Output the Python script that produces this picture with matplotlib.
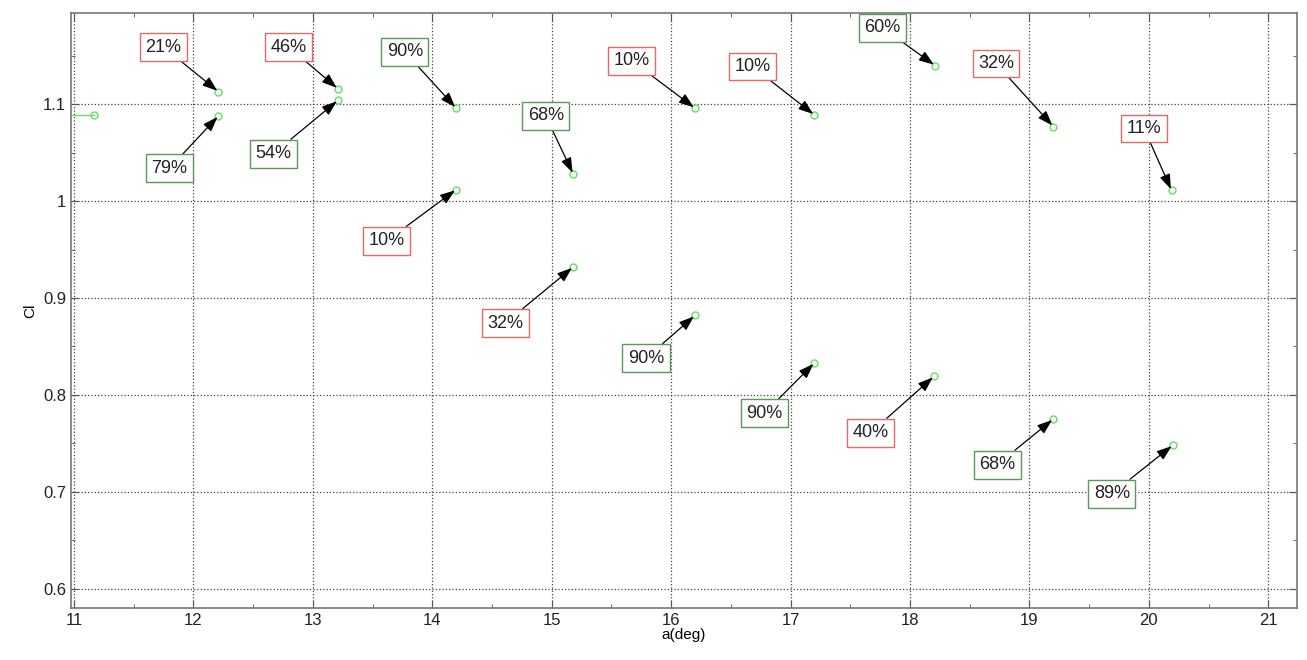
import matplotlib.pyplot as plt
from matplotlib.ticker import MultipleLocator

plt.rcParams["font.family"] = ["Liberation Sans", "DejaVu Sans"]

# measured points: angle of attack vs lift coefficient
alpha = [12.21, 12.21, 13.21, 13.21, 14.2, 14.2, 15.18, 15.18, 16.2, 16.2,
         17.2, 17.2, 18.21, 18.2, 19.2, 19.2, 20.19, 20.2]
cl = [1.113, 1.088, 1.116, 1.104, 1.096, 1.012, 1.028, 0.932, 1.096, 0.882,
      1.089, 0.833, 1.140, 0.819, 1.077, 0.775, 1.011, 0.748]
labels = ["21%", "79%", "46%", "54%", "90%", "10%", "68%", "32%", "10%", "90%",
          "10%", "90%", "60%", "40%", "32%", "68%", "11%", "89%"]
# label box centres
label_x = [11.75, 11.80, 12.80, 12.67, 13.77, 13.62, 14.95, 14.61, 15.67, 15.79,
           16.68, 16.78, 17.77, 17.67, 18.72, 18.73, 19.96, 19.69]
label_y = [1.159, 1.034, 1.159, 1.049, 1.154, 0.959, 1.088, 0.874, 1.145, 0.838,
           1.139, 0.781, 1.179, 0.761, 1.142, 0.728, 1.075, 0.698]

# first sample, drawn with its connecting line from the left edge
lead_x = [10.9, 11.17]
lead_y = [1.089, 1.089]

GREEN_EDGE = "#5f955f"
RED_EDGE = "#e06a6a"


def main() -> None:
    fig = plt.figure(figsize=(13.07, 6.6), dpi=100)
    ax = fig.add_axes([0.0543, 0.0788, 0.9380, 0.9012])

    ax.plot(lead_x, lead_y, "-o", color="#66dd66", mfc="none", ms=5, lw=1)
    ax.plot(alpha, cl, "o", color="#66dd66", mfc="none", ms=5, lw=0)

    for x, y, tx, ty, lab in zip(alpha, cl, label_x, label_y, labels):
        pct = int(lab.rstrip("%"))
        edge = GREEN_EDGE if pct >= 50 else RED_EDGE
        ax.annotate(
            lab, xy=(x, y), xytext=(tx, ty),
            ha="center", va="center", fontsize=13, color="#222222",
            bbox=dict(boxstyle="square,pad=0.3", fc="white", ec=edge, lw=1),
            arrowprops=dict(arrowstyle="-|>,head_length=0.7,head_width=0.25",
                            color="black", lw=0.9, shrinkA=0, shrinkB=1),
        )

    ax.set_xlim(10.975, 21.24)
    ax.set_ylim(0.58, 1.194)
    ax.xaxis.set_major_locator(MultipleLocator(1))
    ax.xaxis.set_minor_locator(MultipleLocator(0.5))
    ax.yaxis.set_major_locator(MultipleLocator(0.1))
    ax.yaxis.set_minor_locator(MultipleLocator(0.05))
    ax.set_yticks([0.6, 0.7, 0.8, 0.9, 1.0, 1.1])
    ax.set_yticklabels(["0.6", "0.7", "0.8", "0.9", "1", "1.1"])

    ax.tick_params(which="both", direction="in", top=True, right=True,
                   colors="#555555", labelcolor="#222222", labelsize=12)
    ax.tick_params(which="major", length=6)
    ax.tick_params(which="minor", length=3)
    ax.grid(True, which="major", linestyle=":", color="#444444", lw=0.9)
    for s in ax.spines.values():
        s.set_color("#777777")
        s.set_linewidth(1.2)

    ax.set_xlabel("a(deg)", fontsize=11, labelpad=0)
    ax.set_ylabel("Cl", fontsize=11, labelpad=4)

    fig.savefig("out.png", dpi=100)
    plt.close(fig)


if __name__ == "__main__":
    main()
